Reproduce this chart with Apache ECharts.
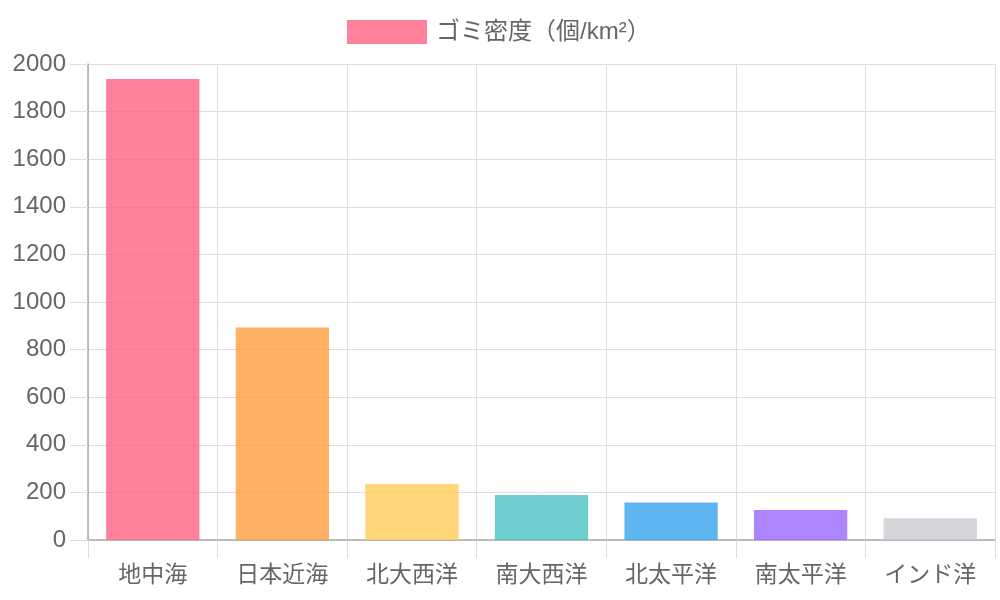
<!DOCTYPE html>
<html>
<head>
<meta charset="utf-8">
<script src="https://cdn.jsdelivr.net/npm/echarts@6/dist/echarts.min.js"></script>
<style>
  html, body { margin: 0; padding: 0; background: #fff; }
  #chart { width: 1000px; height: 600px; }
</style>
</head>
<body>
<div id="chart"></div>
<script>
const seriesName = 'ゴミ密度（個/km²）';
const categories = ['地中海', '日本近海', '北大西洋', '南大西洋', '北太平洋', '南太平洋', 'インド洋'];
const values = [1937, 893, 235, 189, 158, 126, 91];
const barColors = [
    'rgba(255, 99, 132, 0.8)',
    'rgba(255, 159, 64, 0.8)',
    'rgba(255, 205, 86, 0.8)',
    'rgba(75, 192, 192, 0.8)',
    'rgba(54, 162, 235, 0.8)',
    'rgba(153, 102, 255, 0.8)',
    'rgba(201, 203, 207, 0.8)'
];

const font = '"Liberation Sans", "Noto Sans CJK JP", sans-serif';
const chart = echarts.init(document.getElementById('chart'));

const option = {
    animation: false,
    textStyle: { fontFamily: font },
    legend: {
        top: 15,
        left: 342,
        icon: 'rect',
        itemWidth: 80,
        itemHeight: 24,
        itemGap: 10,
        textStyle: { fontSize: 24, color: '#666', fontFamily: font, padding: [0, 0, 0, 4] },
        data: [{ name: seriesName, itemStyle: { color: barColors[0] } }]
    },
    grid: { left: 88, right: 5, top: 64, bottom: 60, containLabel: false },
    xAxis: {
        type: 'category',
        data: categories,
        boundaryGap: true,
        axisLine: { show: true, lineStyle: { color: '#aaa', width: 1.5 } },
        axisTick: { show: true, length: 18, alignWithLabel: false, lineStyle: { color: '#ddd' } },
        splitLine: { show: true, lineStyle: { color: '#ddd' } },
        axisLabel: { fontSize: 23, color: '#666', margin: 24, fontFamily: font }
    },
    yAxis: {
        type: 'value',
        min: 0,
        max: 2000,
        interval: 200,
        axisLine: { show: true, lineStyle: { color: '#aaa', width: 1.5 } },
        axisTick: { show: true, length: 18, lineStyle: { color: '#ddd' } },
        splitLine: { show: true, lineStyle: { color: '#ddd' } },
        axisLabel: { fontSize: 24, color: '#666', margin: 22, fontFamily: font, formatter: v => String(v) }
    },
    series: [{
        name: seriesName,
        type: 'bar',
        barWidth: '72%',
        itemStyle: { color: barColors[0] },
        data: values.map((v, i) => ({ value: v, itemStyle: { color: barColors[i] } }))
    }]
};

chart.setOption(option);
</script>
</body>
</html>
